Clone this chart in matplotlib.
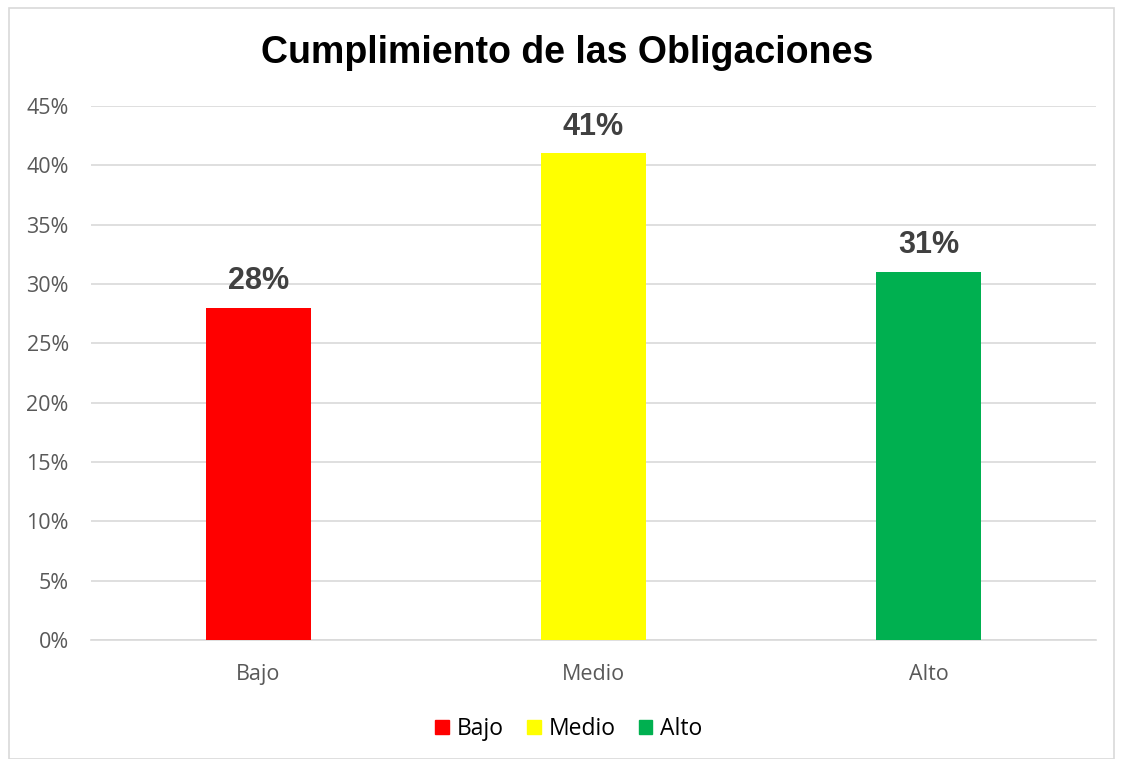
import matplotlib.pyplot as plt
from matplotlib.patches import Rectangle, Patch
from matplotlib.ticker import PercentFormatter

# --- Datos ---
categorias = ["Bajo", "Medio", "Alto"]
porcentajes = [28, 41, 31]
colores = ["#FF0000", "#FFFF00", "#00B050"]
etiquetas = ["28%", "41%", "31%"]

fig = plt.figure(figsize=(11.24, 7.59), dpi=100)
fig.patches.append(Rectangle((9 / 1124, 0), 1105 / 1124, 751 / 759, transform=fig.transFigure,
                             fill=False, edgecolor="#D9D9D9", linewidth=1.2))

ax = fig.add_axes([91 / 1124, 1 - 640 / 759, 1005 / 1124, 534 / 759])
x = range(len(categorias))
ax.bar(x, porcentajes, width=0.316, color=colores, zorder=3)

for xi, v, t in zip(x, porcentajes, etiquetas):
    ax.text(xi, v + 1.0, t, ha="center", va="bottom", fontsize=22, fontweight="bold",
            color="#404040", family="Liberation Sans")

ax.set_xlim(-0.5, 2.5)
ax.set_ylim(0, 45)
ax.set_yticks(range(0, 46, 5))
ax.yaxis.set_major_formatter(PercentFormatter(decimals=0))
ax.set_xticks(list(x))
ax.set_xticklabels(categorias)
ax.grid(axis="y", color="#D9D9D9", linewidth=1.2, zorder=0)
for s in ["top", "right", "left"]:
    ax.spines[s].set_visible(False)
ax.spines["bottom"].set_color("#D9D9D9")
ax.spines["bottom"].set_linewidth(1.2)
ax.tick_params(length=0, labelsize=15.5, colors="#595959")
ax.tick_params(axis="y", pad=16)
ax.tick_params(axis="x", pad=17)
for lbl in ax.get_xticklabels() + ax.get_yticklabels():
    lbl.set_family("Open Sans")

fig.text(567 / 1124, 1 - 53 / 759, "Cumplimiento de las Obligaciones", ha="center", va="center",
         fontsize=27, fontweight="bold", family="Liberation Sans")

handles = [Patch(color=c, label=l) for c, l in zip(colores, categorias)]
fig.legend(handles=handles, loc="center", bbox_to_anchor=(569 / 1124, 1 - 729 / 759), ncol=3,
           frameon=False, prop={"family": "Open Sans", "size": 16.5}, handlelength=0.6,
           handleheight=0.6, handletextpad=0.35, columnspacing=1.0)

fig.savefig("out.png", dpi=100)
